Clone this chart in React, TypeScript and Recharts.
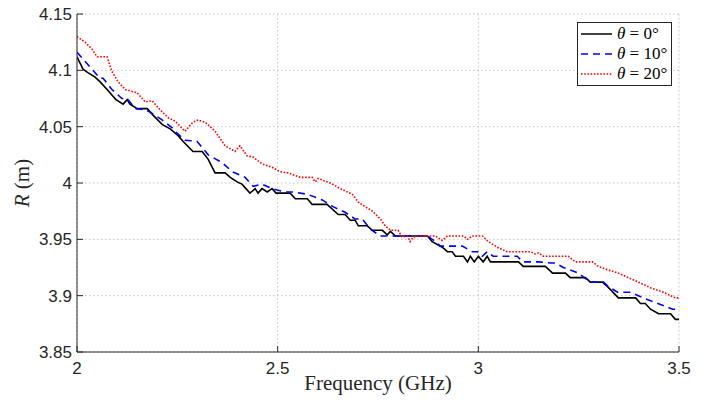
import React from 'react';
import {
  LineChart, Line, XAxis, YAxis, CartesianGrid,
} from 'recharts';

// Frequency (GHz) / range R (m), per incidence angle.
const freq0 = [2.0, 2.015, 2.027, 2.045, 2.057, 2.075, 2.097, 2.115, 2.125, 2.132, 2.15, 2.175, 2.19, 2.212, 2.232, 2.252, 2.264, 2.289, 2.312, 2.327, 2.344, 2.369, 2.382, 2.399, 2.411, 2.431, 2.444, 2.451, 2.461, 2.474, 2.486, 2.496, 2.531, 2.544, 2.574, 2.586, 2.623, 2.651, 2.668, 2.681, 2.693, 2.701, 2.723, 2.736, 2.761, 2.773, 2.781, 2.793, 2.873, 2.885, 2.91, 2.923, 2.935, 2.943, 2.963, 2.973, 2.98, 2.99, 3.0, 3.012, 3.022, 3.03, 3.1, 3.112, 3.167, 3.185, 3.217, 3.229, 3.267, 3.279, 3.309, 3.322, 3.349, 3.392, 3.404, 3.416, 3.429, 3.449, 3.479, 3.491, 3.5];
const r0 = [4.112, 4.101, 4.098, 4.094, 4.09, 4.083, 4.074, 4.07, 4.074, 4.07, 4.066, 4.066, 4.06, 4.052, 4.048, 4.042, 4.037, 4.028, 4.028, 4.021, 4.009, 4.009, 4.005, 4.001, 3.999, 3.991, 3.995, 3.991, 3.995, 3.992, 3.995, 3.991, 3.991, 3.986, 3.986, 3.981, 3.981, 3.972, 3.972, 3.967, 3.967, 3.962, 3.962, 3.958, 3.958, 3.954, 3.957, 3.953, 3.953, 3.948, 3.943, 3.939, 3.939, 3.935, 3.935, 3.93, 3.935, 3.93, 3.935, 3.93, 3.935, 3.93, 3.93, 3.926, 3.926, 3.92, 3.92, 3.916, 3.916, 3.912, 3.912, 3.908, 3.898, 3.898, 3.893, 3.893, 3.888, 3.884, 3.884, 3.879, 3.879];

const freq10 = [2.0, 2.02, 2.032, 2.057, 2.065, 2.087, 2.112, 2.125, 2.145, 2.17, 2.182, 2.212, 2.237, 2.244, 2.269, 2.299, 2.327, 2.362, 2.387, 2.419, 2.439, 2.461, 2.486, 2.519, 2.539, 2.574, 2.611, 2.638, 2.668, 2.693, 2.711, 2.731, 2.756, 2.873, 2.893, 2.905, 2.96, 2.985, 2.998, 3.01, 3.022, 3.037, 3.097, 3.11, 3.15, 3.18, 3.192, 3.212, 3.249, 3.279, 3.312, 3.324, 3.347, 3.379, 3.411, 3.441, 3.484, 3.5];
const r10 = [4.116, 4.108, 4.103, 4.093, 4.093, 4.083, 4.075, 4.075, 4.066, 4.065, 4.063, 4.056, 4.049, 4.046, 4.038, 4.037, 4.025, 4.018, 4.01, 4.005, 3.997, 3.999, 3.995, 3.992, 3.992, 3.99, 3.985, 3.979, 3.974, 3.968, 3.968, 3.959, 3.953, 3.953, 3.948, 3.944, 3.944, 3.939, 3.939, 3.935, 3.939, 3.935, 3.935, 3.93, 3.93, 3.929, 3.929, 3.925, 3.92, 3.912, 3.912, 3.908, 3.903, 3.903, 3.898, 3.894, 3.888, 3.888];

const freq20 = [2.0, 2.02, 2.037, 2.05, 2.075, 2.087, 2.102, 2.12, 2.15, 2.17, 2.187, 2.207, 2.227, 2.244, 2.269, 2.289, 2.302, 2.319, 2.344, 2.369, 2.394, 2.406, 2.424, 2.439, 2.461, 2.486, 2.506, 2.526, 2.556, 2.586, 2.594, 2.601, 2.631, 2.656, 2.686, 2.701, 2.718, 2.736, 2.756, 2.768, 2.781, 2.8, 2.81, 2.823, 2.83, 2.838, 2.855, 2.893, 2.91, 2.923, 2.963, 2.973, 2.985, 3.01, 3.025, 3.047, 3.072, 3.13, 3.142, 3.15, 3.162, 3.224, 3.242, 3.284, 3.299, 3.322, 3.349, 3.374, 3.399, 3.429, 3.461, 3.491, 3.5];
const r20 = [4.13, 4.125, 4.119, 4.112, 4.112, 4.099, 4.09, 4.083, 4.08, 4.072, 4.073, 4.065, 4.058, 4.055, 4.046, 4.054, 4.056, 4.054, 4.046, 4.033, 4.028, 4.033, 4.024, 4.023, 4.017, 4.014, 4.01, 4.009, 4.005, 4.005, 4.001, 4.004, 4.0, 3.995, 3.99, 3.983, 3.979, 3.975, 3.968, 3.962, 3.958, 3.958, 3.952, 3.953, 3.948, 3.952, 3.953, 3.953, 3.949, 3.953, 3.953, 3.95, 3.953, 3.953, 3.948, 3.943, 3.939, 3.939, 3.937, 3.938, 3.935, 3.935, 3.93, 3.93, 3.926, 3.923, 3.92, 3.916, 3.912, 3.907, 3.903, 3.898, 3.898];

const xTicks = [2, 2.5, 3, 3.5];
const yTicks = [3.85, 3.9, 3.95, 4, 4.05, 4.1, 4.15];

const zip = (f: number[], r: number[]) => f.map((v, i) => ({ f: v, r: r[i] }));

const series = [
  { name: '0', data: zip(freq0, r0), color: '#000000', dash: undefined as string | undefined },
  { name: '10', data: zip(freq10, r10), color: '#0000ff', dash: '7 5' },
  { name: '20', data: zip(freq20, r20), color: '#ff0000', dash: '1.6 1.6' },
];

const AX = '#262626';
const TICK_FONT = { fontFamily: 'Liberation Sans, Arial, sans-serif', fontSize: 17, fill: AX };
const SERIF = 'Liberation Serif, Times New Roman, serif';

const fmt = (v: number) => String(+v.toFixed(2));

function BottomTick({ x, y, payload }: any) {
  return (
    <g>
      <line x1={x} y1={y} x2={x} y2={y - 6} stroke={AX} />
      <text x={x} y={y + 22} textAnchor="middle" {...TICK_FONT}>{fmt(payload.value)}</text>
    </g>
  );
}

function LeftTick({ x, y, payload }: any) {
  return (
    <g>
      <line x1={x} y1={y} x2={x + 6} y2={y} stroke={AX} />
      <text x={x - 5} y={y + 6} textAnchor="end" {...TICK_FONT}>{fmt(payload.value)}</text>
    </g>
  );
}

function TopTick({ x, y }: any) {
  return <line x1={x} y1={y} x2={x} y2={y + 6} stroke={AX} />;
}

function RightTick({ x, y }: any) {
  return <line x1={x} y1={y} x2={x - 6} y2={y} stroke={AX} />;
}

function LegendBox() {
  return (
    <div style={{
      position: 'absolute', left: 577, top: 22,
      border: `1px solid ${AX}`, background: '#fff', width: 93, height: 62,
      boxSizing: 'content-box', fontFamily: SERIF, fontSize: 17, color: '#000',
    }}>
      {series.map((s, i) => (
        <div key={s.name} style={{ display: 'flex', alignItems: 'center', height: 20, marginTop: i === 0 ? 1 : 0 }}>
          <svg width={36} height={10} style={{ marginLeft: 3 }}>
            <line x1={0} y1={5} x2={31} y2={5} stroke={s.color} strokeWidth={1.5} strokeDasharray={s.dash} />
          </svg>
          <span style={{ whiteSpace: 'nowrap' }}>
            <i>θ</i> = {s.name}°
          </span>
        </div>
      ))}
    </div>
  );
}

export default function App() {
  return (
    <div style={{ position: 'absolute', left: 0, top: 0, width: 705, height: 403, background: '#fff' }}>
      <LineChart width={705} height={403} margin={{ top: 14, right: 26, bottom: 0, left: 0 }}>
        <CartesianGrid
          xAxisId="b" yAxisId="l"
          stroke="#c4c4c4" strokeDasharray="1.5 2.5"
          verticalValues={xTicks} horizontalValues={yTicks}
        />
        <XAxis
          xAxisId="b" type="number" dataKey="f" domain={[2, 3.5]} ticks={xTicks}
          allowDataOverflow interval={0} height={51}
          axisLine={{ stroke: AX }} tickLine={false} tickSize={0} tickMargin={0}
          tick={<BottomTick />}
          label={{
            content: () => (
              <text x={378} y={390} textAnchor="middle" fontFamily={SERIF} fontSize={21} fill={AX}>
                Frequency (GHz)
              </text>
            ),
          }}
        />
        <XAxis
          xAxisId="t" orientation="top" type="number" domain={[2, 3.5]} ticks={xTicks}
          allowDataOverflow interval={0} height={0}
          axisLine={{ stroke: AX }} tickLine={false} tickSize={0} tickMargin={0}
          tick={<TopTick />}
        />
        <YAxis
          yAxisId="l" type="number" domain={[3.85, 4.15]} ticks={yTicks}
          allowDataOverflow interval={0} width={77}
          axisLine={{ stroke: AX }} tickLine={false} tickSize={0} tickMargin={0}
          tick={<LeftTick />}
          label={{
            content: () => (
              <text x={29} y={183} transform="rotate(-90, 29, 183)" textAnchor="middle"
                fontFamily={SERIF} fontSize={21} fill={AX}>
                <tspan fontStyle="italic">R</tspan> (m)
              </text>
            ),
          }}
        />
        <YAxis
          yAxisId="r" orientation="right" type="number" domain={[3.85, 4.15]} ticks={yTicks}
          allowDataOverflow interval={0} width={0}
          axisLine={{ stroke: AX }} tickLine={false} tickSize={0} tickMargin={0}
          tick={<RightTick />}
        />
        {series.map(s => (
          <Line
            key={s.name} xAxisId="b" yAxisId="l"
            data={s.data} dataKey="r" type="linear"
            stroke={s.color} strokeWidth={1.6} strokeDasharray={s.dash}
            dot={false} activeDot={false} isAnimationActive={false}
          />
        ))}
      </LineChart>
      <LegendBox />
    </div>
  );
}
